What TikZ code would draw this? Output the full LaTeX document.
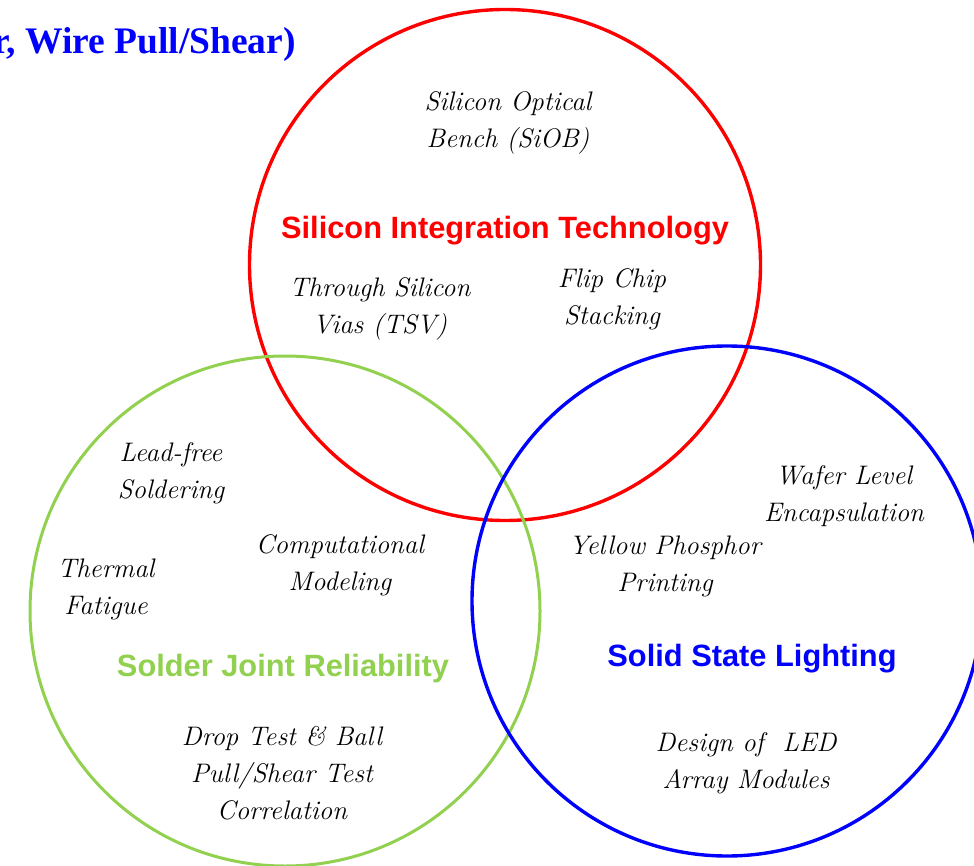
\documentclass[tikz,border=0pt]{standalone}
\usepackage[T1]{fontenc}
\usepackage{fontspec}
\newfontfamily\titlefont{Liberation Serif}
\newfontfamily\headfont{Liberation Sans}
\def\topicsize{\fontsize{26.8}{37}\selectfont}
\newcommand{\corsiva}{\normalfont\itshape}
\IfFileExists{ec-qzcmi.tfm}{\IfFileExists{qzcmi.pfb}{%
  \renewcommand{\corsiva}{\fontencoding{T1}\fontfamily{qzc}\fontseries{m}\fontshape{it}\selectfont}%
  \def\topicsize{\fontsize{31}{37}\selectfont}}{}}{%
  \IfFileExists{pzcmi8t.tfm}{\IfFileExists{uzcmi8a.pfb}{%
    \renewcommand{\corsiva}{\fontencoding{T1}\fontfamily{pzc}\fontseries{mb}\fontshape{it}\selectfont}%
    \def\topicsize{\fontsize{31}{37}\selectfont}}{}}{}}
\definecolor{vred}{RGB}{255,0,0}
\definecolor{vgreen}{RGB}{146,208,80}
\definecolor{vblue}{RGB}{0,0,255}
\tikzset{
  ring/.style={line width=3.4pt},
  topic/.style={align=center, inner sep=0pt, font=\corsiva\topicsize},
  heading/.style={inner sep=0pt, font=\headfont\bfseries\fontsize{30.8}{36}\selectfont},
}
\begin{document}
\begin{tikzpicture}[x=1pt,y=-1pt]
\useasboundingbox (0,0) rectangle (974,866);
% circles
\draw[ring, vred] (505,265) circle[radius=255.5];
\draw[ring, vgreen, line width=3pt] (285,611) circle[radius=255];
\draw[ring, vblue] (727,601) circle[radius=255];
% clipped title
\node[anchor=base east, inner sep=0pt, text=vblue, font=\titlefont\bfseries\fontsize{37.5}{42}\selectfont] (title) at (296,54) {r, Wire Pull/Shear)};
% headings
\node[heading, text=vred] (sit) at (505,231) {Silicon Integration Technology};
\node[heading, text=vgreen] (sjr) at (283,669) {Solder Joint Reliability};
\node[heading, text=vblue] (ssl) at (752,659) {Solid State Lighting};
% topics
\node[topic] (siob) at (508,123) {Silicon Optical\\Bench (SiOB)};
\node[topic] (tsv) at (380,309) {Through Silicon\\Vias (TSV)};
\node[topic] (flip) at (612,299) {Flip Chip\\Stacking};
\node[topic] (lead) at (171,473) {Lead-free\\Soldering};
\node[topic] (therm) at (106,589) {Thermal\\Fatigue};
\node[topic] (comp) at (340,565) {Computational\\Modeling};
\node[topic] (yell) at (665,566) {Yellow Phosphor\\Printing};
\node[topic] (wafer) at (844,496) {Wafer Level\\Encapsulation};
\node[topic] (drop) at (282,773) {Drop Test \& Ball\\Pull/Shear Test\\Correlation};
\node[topic] (led) at (746,763) {Design of~ LED\\Array Modules};
\end{tikzpicture}
\end{document}
